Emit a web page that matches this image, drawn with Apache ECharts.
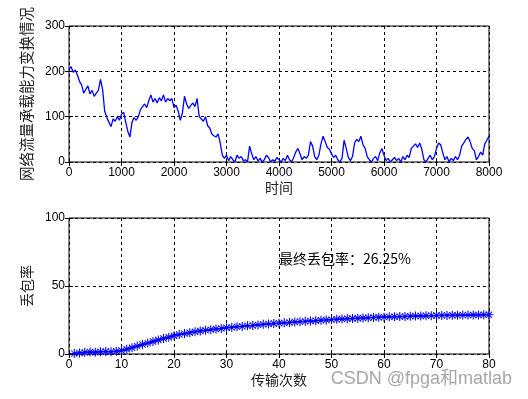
<!DOCTYPE html>
<html>
<head>
<meta charset="utf-8">
<script src="https://cdn.jsdelivr.net/npm/echarts@6/dist/echarts.min.js"></script>
<style>
  html, body { margin: 0; padding: 0; background: #fff; }
  #chart { width: 528px; height: 399px; }
</style>
</head>
<body>
<div id="chart"></div>
<script>
// 上图：网络流量承载能力，每 40 个时间单位取一个读数
const timeStep = 40;
const capacity = [
    205, 210, 198, 203, 192, 178, 170, 152, 160, 168, 150, 158, 145, 152, 158, 182, 160, 112, 98, 88, 78, 95, 90, 100, 92,
    105, 110, 88, 68, 55, 88, 98, 92, 100, 115, 122, 128, 120, 135, 148, 132, 140, 130, 142, 135, 148, 132, 140, 135, 140,
    120, 125, 112, 92, 108, 145, 128, 118, 125, 130, 122, 140, 100, 95, 90, 100, 80, 75, 62, 58, 55, 62, 42, 15, 8,
    15, 3, 12, 5, 0, 15, 8, 12, 3, 5, 0, 35, 18, 5, 12, 2, 8, 0, 5, 15, 10, 0, 5, 2, 10,
    5, 0, 8, 3, 15, 5, 0, 10, 22, 30, 18, 5, 12, 8, 15, 45, 35, 12, 5, 15, 40, 57, 45, 32, 28,
    18, 10, 15, 5, 0, 8, 48, 30, 10, 3, 12, 42, 50, 45, 57, 38, 30, 12, 5, 0, 8, 12, 3, 20, 30,
    15, 3, 8, 0, 5, 10, 3, 8, 0, 12, 5, 15, 10, 30, 35, 40, 32, 42, 28, 5, 0, 8, 15, 5, 12,
    30, 42, 38, 20, 5, 12, 0, 8, 3, 12, 5, 15, 35, 42, 50, 55, 45, 30, 25, 5, 12, 22, 15, 40, 48, 57
];
const topXTicks = [0, 1000, 2000, 3000, 4000, 5000, 6000, 7000, 8000];
const topYTicks = [0, 100, 200, 300];

// 下图：丢包率随传输次数变化
const transCount = [];
for (let i = 1; i <= 80; i++) transCount.push(i);
const lossRate = [
    0.3, 0.8, 1.2, 1.5, 1.3, 1.6, 1.8, 1.7, 2.0, 2.6,
    3.5, 4.6, 5.8, 7.0, 8.0, 9.2, 10.3, 11.4, 12.3, 13.4,
    14.3, 15.0, 15.6, 16.3, 16.9, 17.4, 17.9, 18.4, 18.8, 19.3,
    19.6, 20.0, 20.3, 20.7, 21.0, 21.4, 21.8, 22.1, 22.4, 22.6,
    22.9, 23.2, 23.5, 23.8, 24.0, 24.3, 24.5, 24.8, 25.0, 25.3,
    25.5, 25.7, 25.9, 26.1, 26.3, 26.5, 26.6, 26.8, 27.0, 27.1,
    27.3, 27.4, 27.5, 27.6, 27.8, 27.9, 28.0, 28.1, 28.2, 28.3,
    28.4, 28.4, 28.5, 28.5, 28.6, 28.6, 28.7, 28.7, 28.8, 28.8
];
const bottomXTicks = [0, 10, 20, 30, 40, 50, 60, 70, 80];
const bottomYTicks = [0, 50, 100];
const finalLossText = '最终丢包率：26.25%';

const numFont = 'Liberation Sans';
const cjkFont = 'Noto Sans CJK SC';

// matlab 的 * 号标记
const starPath = 'path://M-1.2,-10 L1.2,-10 L1.2,10 L-1.2,10 Z M-10,-1.2 L10,-1.2 L10,1.2 L-10,1.2 Z ' +
    'M-6.3,-7.7 L7.7,6.3 L6.3,7.7 L-7.7,-6.3 Z M6.3,-7.7 L7.7,-6.3 L-6.3,7.7 L-7.7,6.3 Z';

const tickLabel = { color: '#000', fontSize: 12, fontFamily: numFont, formatter: v => String(v) };

function mainAxis(ticks, extra) {
    return Object.assign({
        type: 'value',
        min: ticks[0],
        max: ticks[ticks.length - 1],
        interval: ticks[1] - ticks[0],
        axisLine: { show: false },
        axisTick: { show: true, inside: true, length: 4, lineStyle: { color: '#000' } },
        splitLine: { show: true, lineStyle: { color: '#000', type: [3, 3], width: 1 } }
    }, extra);
}

function mirrorAxis(ticks, extra) {
    return Object.assign({
        type: 'value',
        min: ticks[0],
        max: ticks[ticks.length - 1],
        interval: ticks[1] - ticks[0],
        axisLine: { show: false },
        axisTick: { show: true, inside: true, length: 4, lineStyle: { color: '#000' } },
        axisLabel: { show: false },
        splitLine: { show: false }
    }, extra);
}

const nameStyle = { color: '#222', fontSize: 14, fontFamily: cjkFont };

const chart = echarts.init(document.getElementById('chart'), null, { renderer: 'canvas' });

const option = {
    backgroundColor: '#fff',
    animation: false,
    grid: [
        { left: 69, right: 39, top: 26, height: 136, show: true, borderColor: '#000', borderWidth: 1, backgroundColor: '#fff' },
        { left: 69, right: 39, top: 218, height: 136, show: true, borderColor: '#000', borderWidth: 1, backgroundColor: '#fff' }
    ],
    xAxis: [
        mainAxis(topXTicks, { gridIndex: 0, position: 'bottom', name: '时间', nameLocation: 'middle', nameGap: 19,
            nameTextStyle: nameStyle, axisLabel: Object.assign({ margin: 5 }, tickLabel) }),
        mainAxis(bottomXTicks, { gridIndex: 1, position: 'bottom', name: '传输次数', nameLocation: 'middle', nameGap: 19,
            nameTextStyle: nameStyle, axisLabel: Object.assign({ margin: 5 }, tickLabel) }),
        mirrorAxis(topXTicks, { gridIndex: 0, position: 'top' }),
        mirrorAxis(bottomXTicks, { gridIndex: 1, position: 'top' })
    ],
    yAxis: [
        mainAxis(topYTicks, { gridIndex: 0, position: 'left', name: '网络流量承载能力变换情况', nameLocation: 'middle', nameGap: 34,
            nameTextStyle: Object.assign({}, nameStyle, { fontSize: 14.5 }), axisLabel: Object.assign({ margin: 4 }, tickLabel) }),
        mainAxis(bottomYTicks, { gridIndex: 1, position: 'left', name: '丢包率', nameLocation: 'middle', nameGap: 34,
            nameTextStyle: nameStyle, axisLabel: Object.assign({ margin: 4 }, tickLabel) }),
        mirrorAxis(topYTicks, { gridIndex: 0, position: 'right' }),
        mirrorAxis(bottomYTicks, { gridIndex: 1, position: 'right' })
    ],
    series: [
        {
            type: 'line',
            xAxisIndex: 0,
            yAxisIndex: 0,
            data: capacity.map((v, i) => [i * timeStep, v]),
            showSymbol: false,
            symbol: 'none',
            lineStyle: { color: '#0000ff', width: 1.3 },
            z: 5
        },
        {
            type: 'line',
            xAxisIndex: 1,
            yAxisIndex: 1,
            data: transCount.map((x, i) => [x, lossRate[i]]),
            symbol: starPath,
            symbolSize: 9,
            showAllSymbol: true,
            itemStyle: { color: '#0000ff' },
            lineStyle: { color: '#0000ff', width: 1.5 },
            z: 5,
            markPoint: {
                symbol: 'circle',
                symbolSize: 0,
                silent: true,
                label: {
                    show: true,
                    position: 'right',
                    distance: 0,
                    formatter: finalLossText,
                    color: '#000',
                    fontSize: 14,
                    fontFamily: cjkFont
                },
                data: [{ coord: [40, 70] }]
            }
        }
    ],
    graphic: [
        {
            type: 'text',
            right: 16,
            top: 370,
            style: {
                text: 'CSDN @fpga和matlab',
                fill: 'rgba(150,150,150,0.85)',
                font: '18px "Liberation Sans", "Noto Sans CJK SC"'
            },
            z: 100
        }
    ]
};

chart.setOption(option);
</script>
</body>
</html>
